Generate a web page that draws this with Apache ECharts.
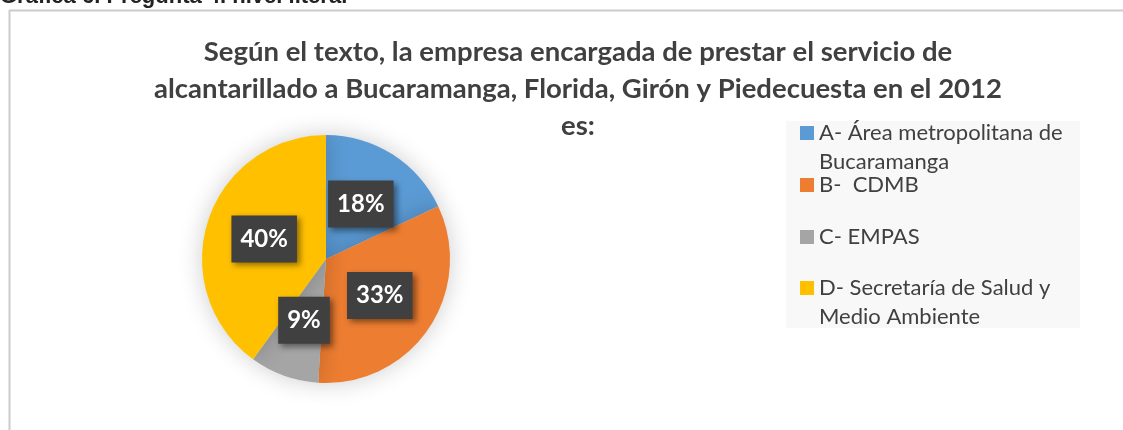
<!DOCTYPE html>
<html>
<head>
<meta charset="utf-8">
<script src="https://cdn.jsdelivr.net/npm/echarts@6/dist/echarts.min.js"></script>
<style>
  html, body { margin: 0; padding: 0; background: #ffffff; }
  #chart { width: 1123px; height: 430px; }
</style>
</head>
<body>
<div id="chart"></div>
<script>
// data
var categories = [
  "A- Área metropolitana de Bucaramanga",
  "B-  CDMB",
  "C- EMPAS",
  "D- Secretaría de Salud y Medio Ambiente"
];
var percents = [18, 33, 9, 40];
var colors = ["#5B9BD5", "#ED7D31", "#A5A5A5", "#FFC000"];
// wrapped legend text as in the original (leading blank line keeps the box on line 1)
var legendText = [
  "\nA- Área metropolitana de\nBucaramanga",
  "B-  CDMB",
  "C- EMPAS",
  "\nD- Secretaría de Salud y\nMedio Ambiente"
];
var legendTops = [89.5, 170.5, 222.5, 244.5];

var chart = echarts.init(document.getElementById("chart"));

var pieData = categories.map(function (name, i) {
  return { name: name, value: percents[i], itemStyle: { color: colors[i] } };
});

var legends = categories.map(function (name, i) {
  return {
    orient: "vertical",
    left: 800,
    top: legendTops[i],
    padding: 0,
    itemWidth: 14,
    itemHeight: 14,
    itemGap: 0,
    icon: "rect",
    selectedMode: false,
    data: [name],
    formatter: function () { return legendText[i]; },
    textStyle: {
      fontFamily: "Lato",
      fontSize: 22,
      lineHeight: 29,
      color: "#404040",
      padding: [0, 0, 0, 0]
    }
  };
});

chart.setOption({
  backgroundColor: "#ffffff",
  title: {
    text: "Según el texto, la empresa encargada de prestar el servicio de\nalcantarillado a Bucaramanga, Florida, Girón y Piedecuesta en el 2012\nes:",
    left: 573,
    top: 29,
    textAlign: "center",
    textStyle: {
      fontFamily: "Lato",
      fontWeight: "bold",
      fontSize: 27.5,
      lineHeight: 37,
      color: "#404040"
    }
  },
  legend: legends,
  graphic: [
    {
      type: "rect",
      z: -10,
      shape: { x: 786, y: 121, width: 294, height: 207 },
      style: { fill: "#f8f8f8" }
    },
    {
      type: "line",
      shape: { x1: 9.5, y1: 10, x2: 9.5, y2: 430 },
      style: { stroke: "#cccccc", lineWidth: 2 }
    },
    {
      type: "line",
      shape: { x1: 9, y1: 10.5, x2: 1123, y2: 10.5 },
      style: { stroke: "#cccccc", lineWidth: 2 }
    },
    {
      type: "text",
      left: 0,
      top: -14,
      style: {
        text: "Gráfica 6. Pregunta 4. nivel literal",
        font: "bold 22px 'Liberation Sans', Arial",
        fill: "#222222"
      }
    }
  ],
  series: [
    {
      type: "pie",
      center: [326, 259],
      radius: 124,
      startAngle: 90,
      clockwise: true,
      silent: true,
      data: pieData,
      itemStyle: {
        borderWidth: 0,
        shadowBlur: 24,
        shadowColor: "rgba(0,0,0,0.2)"
      },
      label: {
        show: true,
        position: "inside",
        formatter: "{c}%",
        fontFamily: "Lato",
        fontWeight: "bold",
        fontSize: 24,
        color: "#ffffff",
        backgroundColor: "#404040",
        padding: [12, 9, 11, 9],
        shadowBlur: 6,
        shadowOffsetX: 3,
        shadowOffsetY: 3,
        shadowColor: "rgba(0,0,0,0.45)"
      },
      labelLine: { show: false }
    }
  ]
});
</script>
</body>
</html>
